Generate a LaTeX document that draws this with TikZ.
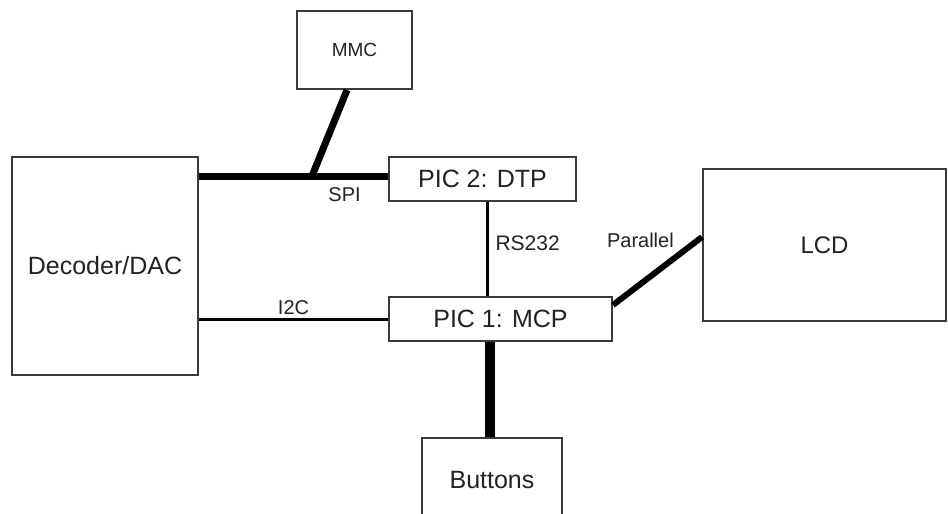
\documentclass[tikz,border=0pt]{standalone}
\usepackage{fontspec}
\setmainfont{Liberation Sans}
\definecolor{boxgray}{HTML}{3A3A3A}
\definecolor{txtgray}{HTML}{222222}

\begin{document}
\begin{tikzpicture}[x=1pt, y=-1pt,
    block/.style={rectangle, draw=boxgray, line width=2, inner sep=0, text=txtgray, font=\fontsize{25}{30}\selectfont},
    bus/.style={font=\fontsize{20}{24}\selectfont, text=txtgray, inner sep=3}]
    \path[use as bounding box, clip] (0,0) rectangle (948,514);

    \node [block, minimum width=115, minimum height=78, font=\fontsize{19}{23}\selectfont] (mmc) at (354.5,50) {MMC};
    \node [block, minimum width=186, minimum height=218] (dac) at (105,266) {Decoder/DAC};
    \node [block, minimum width=187, minimum height=44] (dtp) at (482.5,179) {PIC 2: DTP};
    \node [block, minimum width=223, minimum height=44] (mcp) at (500.5,319) {PIC 1: MCP};
    \node [block, minimum width=243, minimum height=152, font=\fontsize{24}{28}\selectfont] (lcd) at (824.5,245) {LCD};
    \node [block, minimum width=140, minimum height=84] (buttons) at (492,480) {Buttons};

    \coordinate (spi) at (312,176);

    % thick buses
    \begin{scope}[line width=7]
        \draw (dac.east |- spi) to node [bus, pos=0.77, below, yshift=-5] {SPI} (dtp.west |- spi);
        \draw (spi) -- ([xshift=-7.5]mmc.south);
        \draw [line width=6] ([yshift=14]mcp.east) to node [bus, pos=0.75, above left] {Parallel} ([yshift=8]lcd.west);
        \draw [line width=10] ([xshift=-2]buttons.north) -- ([xshift=-2]buttons.north |- mcp.south);
    \end{scope}

    % thin buses
    \begin{scope}[line width=3]
        \draw (dac.east |- mcp.west) to node [bus, above] {I2C} (mcp.west);
        \draw ([xshift=4.5]dtp.south) to node [bus, right, xshift=4, yshift=6, font=\fontsize{21}{25}\selectfont] {RS232} ([xshift=4.5]dtp.south |- mcp.north);
    \end{scope}

\end{tikzpicture}
\end{document}
